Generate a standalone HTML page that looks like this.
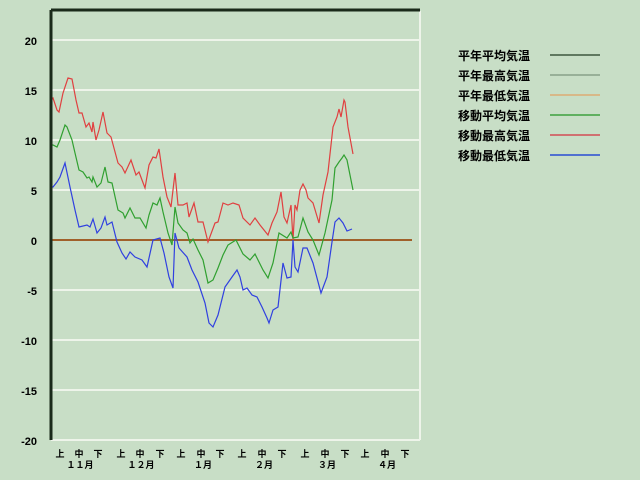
<!DOCTYPE html>
<html><head><meta charset="utf-8"><style>
body{margin:0;background:#c8dec6;}
svg{display:block}
text{font-family:"Liberation Sans","Noto Sans CJK JP",sans-serif;font-weight:bold;fill:#000}
</style></head><body>
<svg width="640" height="480" xmlns="http://www.w3.org/2000/svg">
<rect width="640" height="480" fill="#c8dec6"/>
<g stroke="#eef4ea" stroke-width="2">
<line x1="51" y1="40" x2="420" y2="40"/><line x1="51" y1="90" x2="420" y2="90"/>
<line x1="51" y1="140" x2="420" y2="140"/><line x1="51" y1="190" x2="420" y2="190"/>
<line x1="51" y1="290" x2="420" y2="290"/><line x1="51" y1="340" x2="420" y2="340"/>
<line x1="51" y1="390" x2="420" y2="390"/><line x1="51" y1="440" x2="420" y2="440"/>
<line x1="420" y1="11" x2="420" y2="440"/>
</g>
<line x1="51" y1="240" x2="412" y2="240" stroke="#a0602a" stroke-width="2"/>
<polyline fill="none" stroke="#e04040" stroke-width="1.2" points="51,240 51,100 53,98 57,110 59,112 63,93 68,78 72,79 76,100 79,113 82,113 86,127 89,123 92,132 93,122 96,140 99,130 103,112 107,133 111,137 118,163 122,167 125,173 131,160 136,175 139,172 145,188 149,165 153,157 156,158 159,149 163,177 167,197 171,207 175,173 178,205 183,205 187,203 189,217 194,203 198,222 203,222 208,242 215,223 218,222 223,203 228,205 233,203 239,205 243,218 250,225 255,218 260,225 268,235 272,223 277,212 281,192 284,217 287,223 291,205 293,240 295,205 297,210 300,190 303,184 306,190 308,198 313,203 319,223 323,195 328,172 333,127 337,117 339,109 341,117 344,100 345,102 348,127 353,154"/>
<polyline fill="none" stroke="#30a030" stroke-width="1.2" points="51,240 51,145 53,145 57,147 60,140 65,125 67,127 72,140 75,153 79,170 83,172 87,178 89,177 92,182 93,177 97,187 101,183 105,167 108,182 112,183 118,210 123,213 125,218 130,208 135,218 140,218 146,228 149,215 153,203 157,205 160,198 163,212 168,233 172,245 175,207 178,223 183,230 187,233 190,243 193,239 198,250 203,260 208,283 213,280 218,268 223,255 228,245 236,240 243,254 250,260 255,254 263,270 268,278 273,263 279,233 287,238 291,232 293,238 298,237 303,218 308,232 313,240 319,255 325,233 332,200 335,168 339,162 342,158 344,155 347,160 353,190"/>
<polyline fill="none" stroke="#3040e0" stroke-width="1.2" points="51,240 51,187 53,187 57,182 60,177 65,163 70,187 75,210 79,227 87,225 90,227 93,219 97,233 101,228 105,217 107,225 112,222 117,242 122,253 126,259 130,252 135,257 142,260 147,267 153,240 160,238 164,253 169,277 173,288 175,233 179,248 187,257 192,270 198,282 205,303 209,323 213,327 218,315 225,287 232,277 237,270 240,277 243,290 247,288 252,295 257,297 262,307 267,318 269,323 273,310 278,307 283,263 287,278 291,277 293,240 295,267 298,272 303,248 307,248 313,263 321,293 327,277 332,242 335,222 339,218 343,223 347,231 352,229"/>
<line x1="51" y1="10" x2="420" y2="10" stroke="#1a2a1a" stroke-width="3"/>
<line x1="51" y1="10" x2="51" y2="440" stroke="#1a2a1a" stroke-width="3"/>
<g font-size="11" text-anchor="end">
<text x="37" y="45">20</text><text x="37" y="95">15</text><text x="37" y="145">10</text>
<text x="37" y="195">5</text><text x="37" y="245">0</text><text x="37" y="295">-5</text>
<text x="37" y="345">-10</text><text x="37" y="395">-15</text><text x="37" y="445">-20</text>
</g>
<g font-size="9" text-anchor="middle">
<text x="60" y="457">上</text><text x="79" y="457">中</text><text x="98" y="457">下</text>
<text x="121" y="457">上</text><text x="140" y="457">中</text><text x="160" y="457">下</text>
<text x="181" y="457">上</text><text x="201" y="457">中</text><text x="220" y="457">下</text>
<text x="242" y="457">上</text><text x="262" y="457">中</text><text x="282" y="457">下</text>
<text x="305" y="457">上</text><text x="325" y="457">中</text><text x="345" y="457">下</text>
<text x="365" y="457">上</text><text x="385" y="457">中</text><text x="405" y="457">下</text>
<text x="80" y="468">１１月</text><text x="141" y="468">１２月</text><text x="203" y="468">１月</text>
<text x="264" y="468">２月</text><text x="327" y="468">３月</text><text x="387" y="468">４月</text>
</g>
<g font-size="12">
<text x="458" y="60">平年平均気温</text><text x="458" y="80">平年最高気温</text>
<text x="458" y="100">平年最低気温</text><text x="458" y="120">移動平均気温</text>
<text x="458" y="140">移動最高気温</text><text x="458" y="160">移動最低気温</text>
</g>
<g stroke-width="2">
<line x1="550" y1="55" x2="600" y2="55" stroke="#607860"/>
<line x1="550" y1="75" x2="600" y2="75" stroke="#98b098"/>
<line x1="550" y1="95" x2="600" y2="95" stroke="#d8b888"/>
<line x1="550" y1="115" x2="600" y2="115" stroke="#60b060"/>
<line x1="550" y1="135" x2="600" y2="135" stroke="#d07070"/>
<line x1="550" y1="155" x2="600" y2="155" stroke="#5070d0"/>
</g>
</svg>
</body></html>
